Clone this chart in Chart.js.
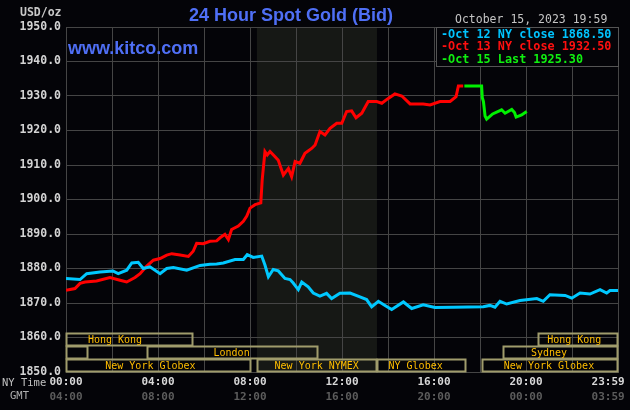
<!DOCTYPE html>
<html><head><meta charset="utf-8">
<script src="https://cdn.jsdelivr.net/npm/chart.js@4"></script>
<style>html,body{margin:0;padding:0;background:#040408;}canvas{display:block}</style>
</head><body>
<canvas id="c" width="630" height="410"></canvas>
<script>
// ---- tick labels ----
const nyTimeLabels = ['00:00','04:00','08:00','12:00','16:00','20:00','23:59'];
const gmtTimeLabels = ['04:00','08:00','12:00','16:00','20:00','00:00','03:59'];

// ---- series (hours after 00:00 NY time, USD/oz) ----
const oct12Hours = [0,0.61,0.9,1.48,2.04,2.27,2.64,2.86,3.14,3.36,3.65,4.09,4.38,4.67,5.25,5.83,6.26,6.55,6.84,7.35,7.71,7.88,8.14,8.51,8.65,8.8,9.01,9.23,9.52,9.74,9.88,10.1,10.25,10.53,10.75,11.04,11.33,11.55,11.91,12.35,12.78,13.07,13.29,13.58,13.87,14.16,14.67,15.03,15.53,16.04,16.84,18.14,18.43,18.65,18.87,19.16,19.74,20.47,20.75,21.04,21.7,21.99,22.35,22.78,23.22,23.51,23.65,24];
const oct12Values = [1877.1,1876.8,1878.5,1879.0,1879.3,1878.5,1879.5,1881.6,1881.8,1880.0,1880.5,1878.5,1880.0,1880.3,1879.5,1880.9,1881.2,1881.3,1881.6,1882.6,1882.6,1884.0,1883.2,1883.6,1881.0,1877.6,1879.7,1879.3,1877.1,1876.8,1875.8,1873.9,1876.1,1874.7,1872.9,1872.0,1872.8,1871.3,1872.8,1872.9,1871.8,1871.0,1868.9,1870.5,1869.3,1868.1,1870.3,1868.4,1869.5,1868.7,1868.8,1868.9,1869.3,1868.8,1870.5,1869.7,1870.7,1871.3,1870.5,1872.4,1872.2,1871.4,1872.9,1872.6,1873.9,1872.9,1873.6,1873.6];

const oct13Hours = [0,0.39,0.61,0.83,1.33,1.91,2.35,2.64,3.0,3.22,3.51,3.8,4.09,4.38,4.6,4.96,5.32,5.53,5.68,5.97,6.26,6.55,6.7,6.91,7.06,7.2,7.49,7.71,7.86,8.0,8.22,8.47,8.53,8.65,8.75,8.87,9.09,9.23,9.45,9.67,9.81,9.96,10.17,10.39,10.68,10.83,11.04,11.26,11.48,11.77,11.99,12.2,12.42,12.61,12.86,13.14,13.51,13.73,14.01,14.3,14.6,14.96,15.53,15.83,16.26,16.7,16.96,17.06,17.27];
const oct13Values = [1873.7,1874.2,1875.7,1876.1,1876.4,1877.4,1876.6,1876.1,1877.4,1878.5,1880.7,1882.4,1882.9,1883.9,1884.3,1883.9,1883.5,1885.0,1887.3,1887.2,1887.9,1888.0,1888.9,1889.9,1888.4,1891.3,1892.3,1893.7,1895.2,1897.5,1898.5,1899.0,1905.7,1913.9,1912.9,1913.9,1912.4,1911.4,1907.1,1909.0,1906.6,1911.0,1910.5,1913.4,1914.8,1915.8,1919.7,1918.7,1920.6,1922.1,1922.1,1925.5,1925.7,1923.7,1925.0,1928.4,1928.4,1927.9,1929.3,1930.6,1930.0,1927.7,1927.7,1927.4,1928.4,1928.4,1929.8,1932.9,1932.9];

const oct15Hours = [17.32,18.07,18.1,18.15,18.22,18.29,18.55,18.94,19.09,19.38,19.5,19.57,19.81,20.03];
const oct15Values = [1932.9,1932.9,1929.5,1928.4,1924.2,1923.3,1924.8,1926.0,1925.0,1926.1,1925.2,1923.9,1924.5,1925.5];

// ---- legend texts ----
const legendTexts = ['-Oct 12 NY close 1868.50','-Oct 13 NY close 1932.50','-Oct 15 Last 1925.30'];

// ---- market sessions ----
const sessionNames   = ['Hong Kong','','London','New York Globex','New York NYMEX','NY Globex','New York Globex','Sydney','Hong Kong'];
const sessionStart   = [0,0,3.5,0,8.3,13.52,18.07,19,20.5];
const sessionEnd     = [5.5,0.96,10.96,8.04,13.52,17.37,24,24,24];
const sessionRow     = [0,1,1,2,2,2,2,1,0];
const sessionLabelAt = [2.13,0,7.2,3.67,10.9,15.2,21.0,21.0,22.1];
const nymexShade = [8.3, 13.52];

const pts = (h, v) => h.map((x, i) => ({x: x, y: v[i]}));
const MONO = '"DejaVu Sans Mono", "Liberation Mono", monospace';
const GRID = '#454545';

const deco = {
  id: 'deco',
  beforeDraw(chart) {
    const {ctx, chartArea: a, scales: {x}} = chart;
    ctx.save();
    ctx.fillStyle = '#040408';
    ctx.fillRect(0, 0, chart.width, chart.height);
    const x0 = x.getPixelForValue(nymexShade[0]), x1 = x.getPixelForValue(nymexShade[1]);
    ctx.fillStyle = '#161815';
    ctx.fillRect(x0, a.top, x1 - x0, a.bottom - a.top);
    ctx.restore();
  },
  afterDraw(chart) {
    const {ctx, chartArea: a, scales: {x}} = chart;
    ctx.save();
    // title
    ctx.textBaseline = 'middle';
    ctx.textAlign = 'left';
    ctx.fillStyle = '#4f6ff5';
    ctx.font = 'bold 18px "Liberation Sans", Arial, sans-serif';
    ctx.fillText('24 Hour Spot Gold (Bid)', 189, 16);
    ctx.fillText('www.kitco.com', 68, 49);
    // unit & date
    ctx.fillStyle = '#c8c8c8';
    ctx.font = 'bold 11.5px ' + MONO;
    ctx.fillText('USD/oz', 20, 13);
    ctx.font = '11.5px ' + MONO;
    ctx.fillStyle = '#c4c4c4';
    ctx.fillText('October 15, 2023 19:59', 455, 20);
    // legend box
    ctx.fillStyle = '#040408';
    ctx.fillRect(436, a.top, a.right - 436, 39);
    ctx.strokeStyle = '#555';
    ctx.lineWidth = 1;
    ctx.strokeRect(436.5, a.top + 0.5, a.right - 436, 39);
    const lc = ['#00c4ff', '#ff1010', '#10f010'];
    ctx.font = 'bold 11.8px ' + MONO;
    legendTexts.forEach((t, i) => {
      ctx.fillStyle = lc[i];
      ctx.fillText(t, 441, 34.5 + i * 12.5);
    });
    // sessions
    const rowH = 13;
    ctx.font = '10px ' + MONO;
    ctx.textAlign = 'center';
    sessionNames.forEach((n, i) => {
      const sx = Math.round(x.getPixelForValue(sessionStart[i])) + 0.5;
      const ex = Math.round(x.getPixelForValue(sessionEnd[i])) - 0.5;
      const top = Math.round(a.bottom - (3 - sessionRow[i]) * rowH) + 0.5;
      ctx.strokeStyle = '#a09c6c';
      ctx.lineWidth = 2;
      ctx.strokeRect(sx, top, ex - sx, rowH - 1);
      if (n) {
        ctx.fillStyle = '#ffbe00';
        ctx.fillText(n, x.getPixelForValue(sessionLabelAt[i]), top + rowH / 2);
      }
    });
    // axis row names
    ctx.textAlign = 'left';
    ctx.font = '10.5px ' + MONO;
    ctx.fillStyle = '#c0c0c0';
    ctx.fillText('NY Time', 2, 383);
    ctx.fillStyle = '#b0b0b0';
    ctx.fillText('GMT', 10, 396.5);
    ctx.restore();
  }
};

new Chart(document.getElementById('c').getContext('2d'), {
  type: 'line',
  data: {
    datasets: [
      {data: pts(oct12Hours, oct12Values), borderColor: '#00c8ff', borderWidth: 3, pointRadius: 0, tension: 0},
      {data: pts(oct13Hours, oct13Values), borderColor: '#ff0000', borderWidth: 3, pointRadius: 0, tension: 0},
      {data: pts(oct15Hours, oct15Values), borderColor: '#00f000', borderWidth: 3, pointRadius: 0, tension: 0}
    ]
  },
  options: {
    responsive: false,
    animation: false,
    devicePixelRatio: 1,
    layout: {padding: {top: 27, right: 12, left: 0, bottom: 0}},
    plugins: {legend: {display: false}, tooltip: {enabled: false}},
    scales: {
      x: {
        type: 'linear', min: 0, max: 24, position: 'bottom', weight: 0,
        grid: {color: GRID, lineWidth: 1, drawTicks: false},
        border: {color: GRID},
        ticks: {
          stepSize: 2, autoSkip: false, maxRotation: 0, padding: 4, color: '#d8d8d8',
          font: {family: MONO, size: 11, weight: 'bold'},
          callback: (v) => v % 4 === 0 ? (v === 24 ? nyTimeLabels[6] + '   ' : nyTimeLabels[v / 4]) : ''
        },
        afterFit: (s) => { s.height = 19; s.paddingLeft = 0; s.paddingRight = 0; }
      },
      x2: {
        type: 'linear', axis: 'x', min: 0, max: 24, position: 'bottom', weight: 1,
        grid: {display: false, drawTicks: false},
        border: {display: false},
        ticks: {
          stepSize: 2, autoSkip: false, maxRotation: 0, padding: 0, color: '#5c5c5c',
          font: {family: MONO, size: 11, weight: 'bold'},
          callback: (v) => v % 4 === 0 ? (v === 24 ? gmtTimeLabels[6] + '   ' : gmtTimeLabels[v / 4]) : ''
        },
        afterFit: (s) => { s.height = 19; s.paddingLeft = 0; s.paddingRight = 0; }
      },
      y: {
        min: 1850, max: 1950, position: 'left',
        grid: {color: GRID, lineWidth: 1, drawTicks: false},
        border: {color: GRID},
        ticks: {
          stepSize: 10, padding: 5, color: '#d4d4d4',
          font: {family: MONO, size: 11.5, weight: 'bold'},
          callback: (v) => v.toFixed(1)
        },
        afterFit: (s) => { s.width = 66; s.paddingTop = 0; s.paddingBottom = 0; }
      }
    }
  },
  plugins: [deco]
});
</script>
</body></html>
